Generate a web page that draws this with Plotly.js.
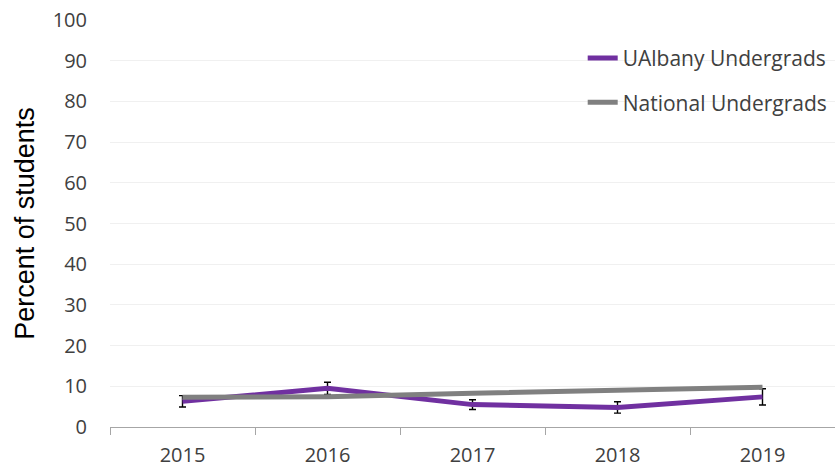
<!DOCTYPE html>
<html>
<head>
<meta charset="utf-8">
<script src="https://cdn.plot.ly/plotly-3.0.1.min.js"></script>
<style>
  html, body { margin: 0; padding: 0; background: #ffffff; }
  #chart { width: 835px; height: 470px; }
</style>
</head>
<body>
<div id="chart"></div>
<script>
// Survey years
const years = ['2015', '2016', '2017', '2018', '2019'];

// Percent of students, by group
const ualbanyValues = [6.3, 9.5, 5.5, 4.8, 7.4];
const ualbanyError = [1.4, 1.5, 1.2, 1.4, 2.0];
const nationalValues = [7.3, 7.45, 8.3, 8.9, 9.75];

// Axis ticks
const yTicks = [0, 10, 20, 30, 40, 50, 60, 70, 80, 90, 100];

const tickFont = { family: '"Open Sans", sans-serif', size: 20, color: '#404040' };
const legendFont = { family: '"Open Sans", sans-serif', size: 21, color: '#404040' };

const traces = [
  {
    x: years,
    y: ualbanyValues,
    name: 'UAlbany Undergrads',
    type: 'scatter',
    mode: 'lines',
    legendgroup: 'a',
    line: { color: '#7030a0', width: 5 },
    error_y: {
      type: 'data',
      array: ualbanyError,
      visible: true,
      color: '#000000',
      thickness: 1.4,
      width: 3.5
    }
  },
  {
    x: years,
    y: nationalValues,
    name: 'National Undergrads',
    type: 'scatter',
    mode: 'lines',
    legendgroup: 'b',
    line: { color: '#808080', width: 5 }
  }
];

const layout = {
  width: 835,
  height: 470,
  margin: { l: 110, r: 0, t: 20, b: 43 },
  paper_bgcolor: '#ffffff',
  plot_bgcolor: '#ffffff',
  showlegend: true,
  legend: {
    x: 0.652,
    xanchor: 'left',
    y: 0.956,
    yanchor: 'top',
    font: legendFont,
    traceorder: 'grouped',
    tracegroupgap: 14,
    bgcolor: 'rgba(0,0,0,0)',
    itemwidth: 30
  },
  xaxis: {
    type: 'category',
    range: [-0.5, 4.5],
    tickson: 'boundaries',
    ticks: 'outside',
    ticklen: 7,
    tickcolor: '#a6a6a6',
    tickwidth: 1,
    showline: true,
    linecolor: '#a6a6a6',
    linewidth: 1,
    showgrid: false,
    zeroline: false,
    tickfont: tickFont,
    ticklabelstandoff: 10,
    fixedrange: true
  },
  yaxis: {
    range: [0, 100],
    tickmode: 'array',
    tickvals: yTicks,
    ticktext: yTicks.map(String),
    showgrid: true,
    gridcolor: '#f0f0f0',
    gridwidth: 1,
    zeroline: false,
    showline: false,
    ticks: '',
    tickfont: tickFont,
    ticklabelstandoff: 22,
    title: {
      text: 'Percent of students',
      font: { family: '"Liberation Sans", Arial, sans-serif', size: 27, color: '#000000' },
      standoff: 10
    },
    fixedrange: true
  }
};

Plotly.newPlot('chart', traces, layout, { displayModeBar: false, staticPlot: true });
</script>
</body>
</html>
